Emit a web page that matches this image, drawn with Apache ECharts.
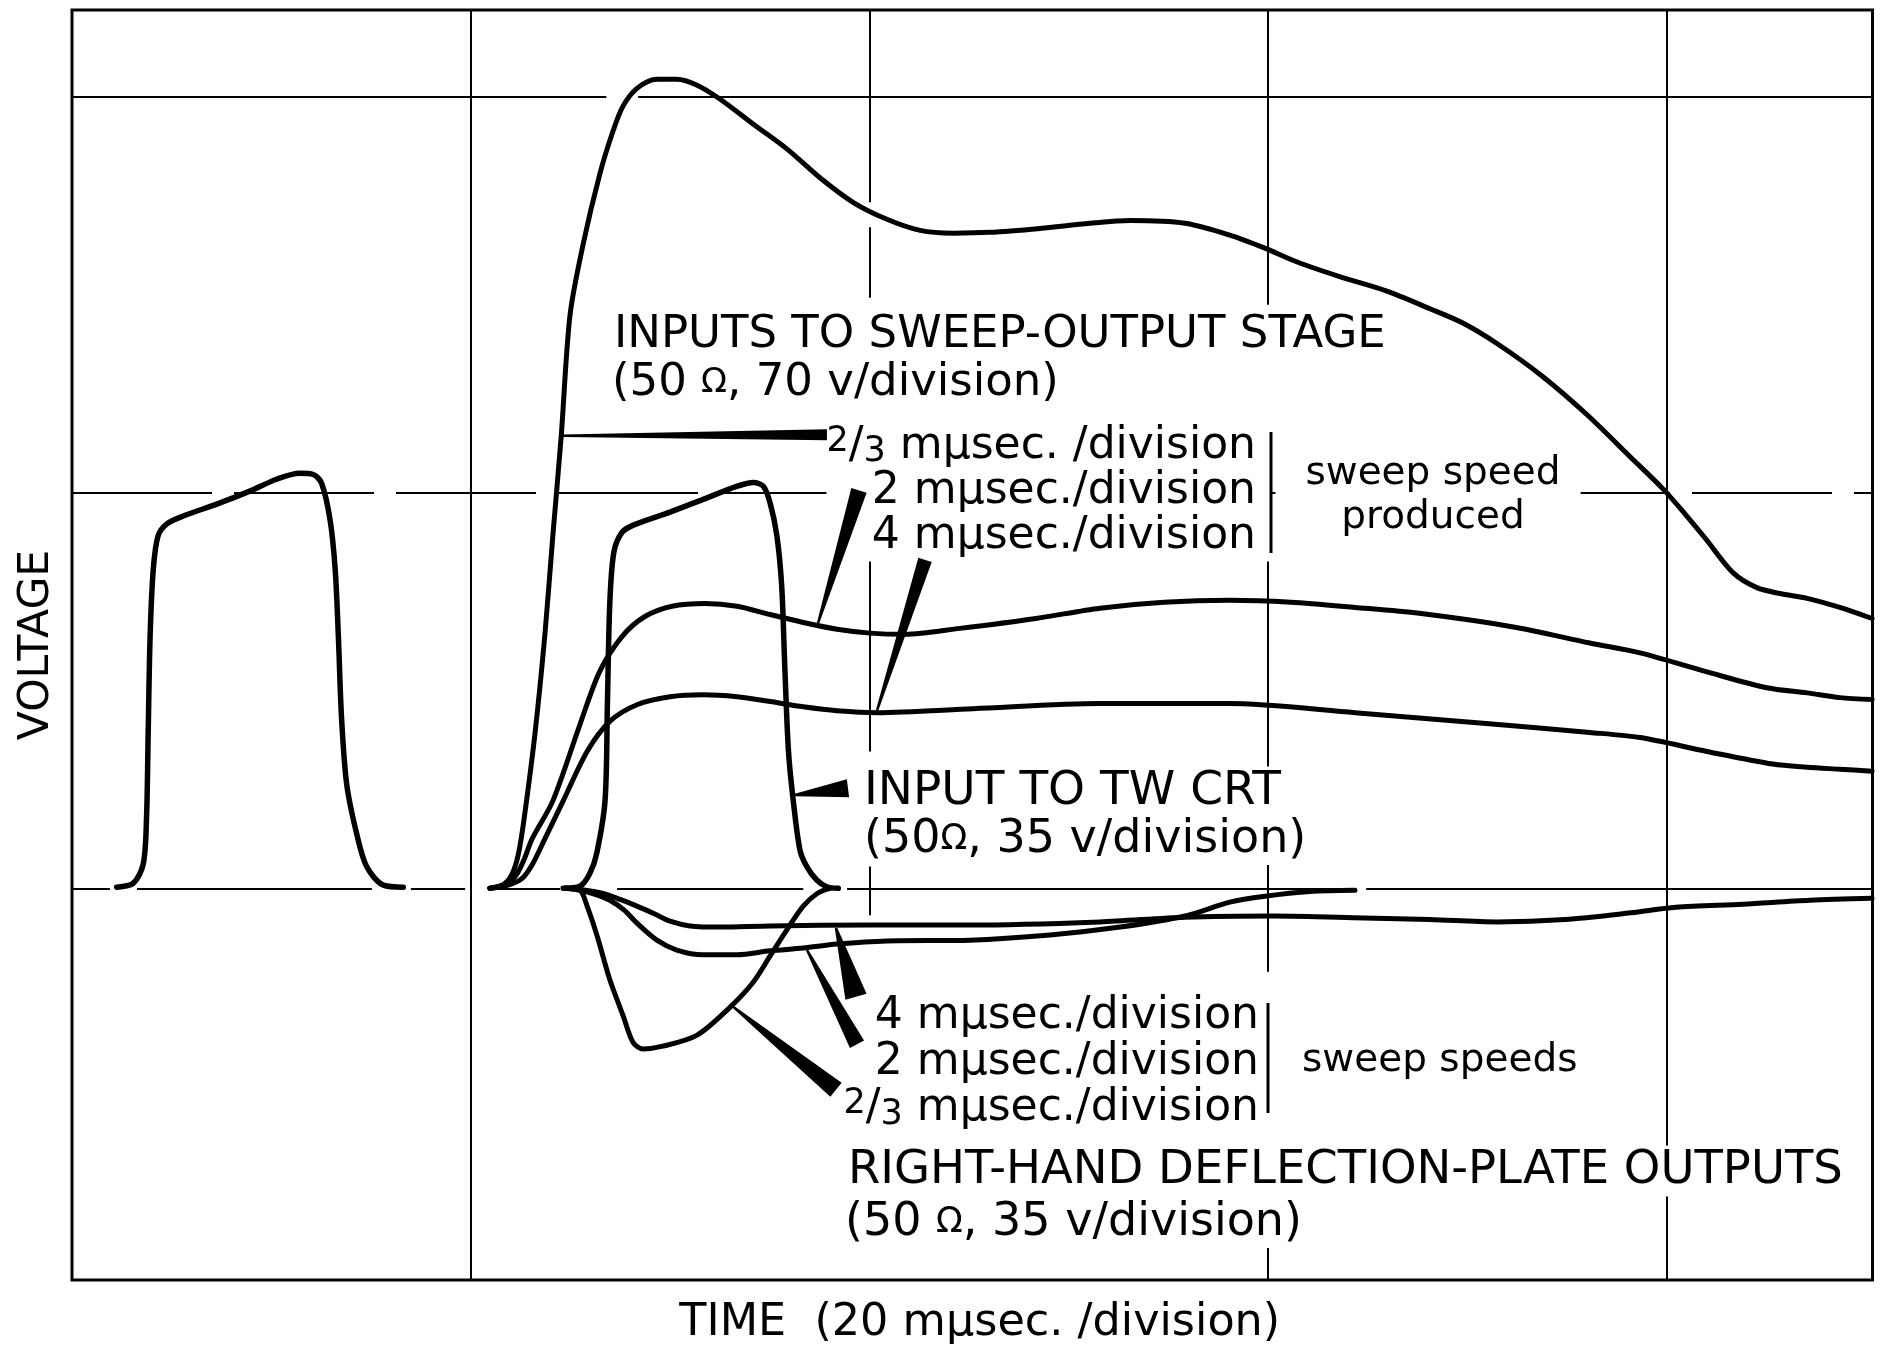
<!DOCTYPE html>
<html>
<head>
<meta charset="utf-8">
<script src="https://cdn.jsdelivr.net/npm/echarts@6/dist/echarts.min.js"></script>
<style>html,body{margin:0;padding:0;background:#fff}#c{width:1885px;height:1351px}</style>
</head>
<body>
<div id="c"></div>
<script>
// Values, in grid divisions: [time (div), voltage (div)]
const crtPulseFirst = [[0.112,0.003],[0.154,0.013],[0.179,0.063],[0.187,0.181],[0.191,0.389],[0.196,0.640],[0.204,0.808],[0.216,0.891],[0.238,0.921],[0.279,0.941],[0.363,0.971],[0.446,1.004],[0.513,1.034],[0.572,1.049],[0.605,1.046],[0.626,1.024],[0.647,0.933],[0.660,0.808],[0.668,0.640],[0.676,0.432],[0.689,0.263],[0.714,0.138],[0.739,0.055],[0.781,0.008],[0.831,0.003]];
const crtPulseSecond = [[1.232,0],[1.274,0.005],[1.299,0.038],[1.316,0.088],[1.337,0.222],[1.343,0.472],[1.349,0.723],[1.359,0.849],[1.379,0.899],[1.408,0.918],[1.500,0.951],[1.583,0.983],[1.667,1.016],[1.709,1.026],[1.734,1.016],[1.751,0.974],[1.768,0.891],[1.780,0.765],[1.788,0.556],[1.797,0.347],[1.809,0.222],[1.826,0.096],[1.843,0.055],[1.868,0.021],[1.893,0.004],[1.922,0]];
const sweepInput23 = [[1.048,0],[1.074,0.005],[1.094,0.020],[1.109,0.048],[1.121,0.093],[1.134,0.176],[1.161,0.389],[1.186,0.640],[1.206,0.891],[1.227,1.142],[1.249,1.448],[1.282,1.628],[1.324,1.806],[1.357,1.914],[1.382,1.977],[1.417,2.022],[1.467,2.045],[1.517,2.045],[1.568,2.030],[1.625,1.995],[1.708,1.932],[1.793,1.869],[1.876,1.796],[1.959,1.734],[2.044,1.691],[2.127,1.663],[2.210,1.656],[2.302,1.658],[2.428,1.668],[2.553,1.681],[2.654,1.688],[2.792,1.681],[2.904,1.651],[2.992,1.618],[3.073,1.583],[3.183,1.545],[3.296,1.510],[3.406,1.465],[3.486,1.430],[3.574,1.377],[3.687,1.295],[3.800,1.197],[3.910,1.089],[3.991,1.009],[4.046,0.946],[4.098,0.883],[4.166,0.798],[4.226,0.760],[4.284,0.745],[4.352,0.733],[4.434,0.710],[4.515,0.682]];
const sweepInput2 = [[1.048,0],[1.086,0.010],[1.114,0.033],[1.134,0.073],[1.154,0.125],[1.206,0.221],[1.274,0.414],[1.324,0.549],[1.380,0.637],[1.437,0.687],[1.505,0.713],[1.588,0.720],[1.668,0.713],[1.751,0.692],[1.834,0.672],[1.919,0.655],[2.002,0.645],[2.089,0.642],[2.227,0.657],[2.418,0.682],[2.578,0.708],[2.739,0.723],[2.904,0.728],[3.057,0.723],[3.218,0.710],[3.379,0.695],[3.619,0.660],[3.807,0.620],[3.933,0.595],[4.101,0.547],[4.251,0.507],[4.352,0.494],[4.434,0.482],[4.515,0.477]];
const sweepInput4 = [[1.048,0],[1.094,0.008],[1.129,0.025],[1.156,0.063],[1.186,0.125],[1.232,0.221],[1.292,0.346],[1.349,0.422],[1.417,0.464],[1.500,0.484],[1.583,0.489],[1.668,0.484],[1.751,0.472],[1.834,0.459],[1.919,0.449],[2.019,0.444],[2.260,0.454],[2.578,0.467],[2.899,0.467],[3.218,0.444],[3.539,0.417],[3.807,0.394],[3.933,0.381],[4.101,0.346],[4.266,0.314],[4.352,0.306],[4.434,0.301],[4.515,0.296]];
const deflect4 = [[1.237,0],[1.274,-0.003],[1.332,-0.013],[1.375,-0.028],[1.417,-0.045],[1.462,-0.065],[1.500,-0.083],[1.550,-0.095],[1.625,-0.098],[1.751,-0.095],[2.002,-0.093],[2.252,-0.093],[2.578,-0.085],[2.792,-0.073],[3.015,-0.070],[3.241,-0.075],[3.406,-0.079],[3.574,-0.085],[3.745,-0.079],[3.910,-0.062],[4.023,-0.048],[4.191,-0.040],[4.359,-0.030],[4.515,-0.025]];
const deflect2 = [[1.237,0],[1.274,-0.005],[1.312,-0.015],[1.349,-0.030],[1.385,-0.055],[1.417,-0.088],[1.467,-0.131],[1.517,-0.156],[1.583,-0.168],[1.668,-0.168],[1.751,-0.158],[1.834,-0.151],[1.919,-0.141],[2.044,-0.133],[2.252,-0.131],[2.453,-0.118],[2.629,-0.098],[2.792,-0.070],[2.904,-0.035],[2.992,-0.020],[3.105,-0.008],[3.218,-0.005]];
const deflect23 = [[1.237,0],[1.274,-0.005],[1.292,-0.045],[1.317,-0.120],[1.349,-0.231],[1.382,-0.321],[1.407,-0.389],[1.432,-0.406],[1.482,-0.399],[1.568,-0.371],[1.650,-0.301],[1.708,-0.238],[1.751,-0.171],[1.793,-0.105],[1.834,-0.045],[1.869,-0.013],[1.901,0]];

const FONT = "'DejaVu Sans', 'Liberation Sans', Arial, sans-serif";
const INK = '#000';

const chart = echarts.init(document.getElementById('c'), null, {renderer: 'canvas', width: 1885, height: 1351});

function curve(name, data, w) {
  return {
    type: 'line', name: name, data: data, showSymbol: false, symbol: 'none',
    smooth: 0.3, silent: true, z: 3,
    lineStyle: {color: INK, width: w, cap: 'round', join: 'round'}
  };
}
const solid = {color: INK, width: 2, type: 'solid'};
function seg(x1, y1, x2, y2, style) {
  return [{coord: [x1, y1], lineStyle: style || solid}, {coord: [x2, y2]}];
}

const gridLines = [
  {xAxis: 1, lineStyle: solid},
  {xAxis: 4, lineStyle: solid},
  seg(2, 2.22, 2, 1.734), seg(2, 1.671, 2, 1.493), seg(2, 0.830, 2, 0.346), seg(2, 0.055, 2, -0.068),
  seg(3, 2.22, 3, 1.475), seg(3, 0.866, 3, -0.211), seg(3, -0.898, 3, -0.99),
  seg(0, 2, 1.34, 2), seg(1.42, 2, 4.516, 2),
  {yAxis: 1, lineStyle: {color: INK, width: 2, type: [140, 22]}},
  seg(0, 0, 0.095, 0), seg(0.163, 0, 0.752, 0), seg(0.850, 0, 0.986, 0), seg(1.066, 0, 1.224, 0),
  seg(1.367, 0, 1.834, 0), seg(1.944, 0, 3.180, 0), seg(3.246, 0, 4.516, 0)
];

// pointer wedges: [tipX, tipY, baseX, baseY, half-width px]
const wedges = [
  [1.2315, 1.144, 1.8936, 1.1465, 5.5],
  [1.8711, 0.670, 1.9739, 1.006, 8],
  [2.0191, 0.449, 2.1395, 0.830, 7],
  [1.8134, 0.236, 1.9463, 0.253, 9],
  [1.9162, -0.100, 1.9664, -0.274, 11],
  [1.8435, -0.156, 1.9689, -0.394, 8],
  [1.6579, -0.299, 1.9162, -0.509, 9]
];

function richFor(size, lh) {
  return {
    sup: {fontSize: Math.round(size * 0.8), fontFamily: FONT, verticalAlign: 'top', lineHeight: lh, fill: INK},
    sl: {fontSize: size, fontFamily: FONT, lineHeight: lh, fill: INK},
    sub: {fontSize: Math.round(size * 0.8), fontFamily: FONT, verticalAlign: 'bottom', lineHeight: lh, fill: INK},
    om: {fontSize: Math.round(size * 0.76), fontFamily: FONT, lineHeight: lh, fill: INK}
  };
}
function txt(x, y, text, size, align, extra) {
  const st = Object.assign({
    text: text, x: 0, y: 0, fill: INK, fontFamily: FONT, fontSize: size,
    align: align, textAlign: align, verticalAlign: 'middle', textVerticalAlign: 'middle',
    backgroundColor: '#fff', padding: [2, 4, 2, 2]
  }, extra || {});
  return {type: 'text', x: x, y: y, z: 10, silent: true, style: st};
}

const option = {
  animation: false,
  backgroundColor: '#fff',
  grid: {left: 72, right: 12.5, top: 10, bottom: 61.5, show: true, borderColor: INK, borderWidth: 3, backgroundColor: 'transparent'},
  xAxis: {
    type: 'value', min: 0, max: 4.516,
    axisLine: {show: false}, axisTick: {show: false}, axisLabel: {show: false}, splitLine: {show: false},
    name: 'TIME  (20 mμsec. /division)', nameLocation: 'middle', nameGap: 21,
    nameTextStyle: {fontFamily: FONT, fontSize: 44.5, color: INK, padding: [0, 0, 0, 15], verticalAlign: 'top'}
  },
  yAxis: {
    type: 'value', min: -0.99, max: 2.22,
    axisLine: {show: false}, axisTick: {show: false}, axisLabel: {show: false}, splitLine: {show: false},
    name: 'VOLTAGE', nameLocation: 'middle', nameGap: 14, nameRotate: 90,
    nameTextStyle: {fontFamily: FONT, fontSize: 42.5, color: INK}
  },
  series: [
    Object.assign(curve('Input to TW CRT (first pulse)', crtPulseFirst, 5.5), {
      markLine: {silent: true, symbol: ['none', 'none'], label: {show: false}, emphasis: {disabled: true}, data: gridLines, z: 1}
    }),
    curve('Input to TW CRT', crtPulseSecond, 5.5),
    curve('Sweep-output input, 2/3 mμsec./division', sweepInput23, 5),
    curve('Sweep-output input, 2 mμsec./division', sweepInput2, 5),
    curve('Sweep-output input, 4 mμsec./division', sweepInput4, 5),
    curve('Deflection-plate output, 4 mμsec./division', deflect4, 5),
    curve('Deflection-plate output, 2 mμsec./division', deflect2, 5),
    curve('Deflection-plate output, 2/3 mμsec./division', deflect23, 5),
    {
      type: 'custom', name: 'pointers', silent: true, z: 12,
      data: wedges,
      encode: {x: [0, 2], y: [1, 3]},
      renderItem: function (params, api) {
        const t = api.coord([api.value(0), api.value(1)]);
        const b = api.coord([api.value(2), api.value(3)]);
        const hw = api.value(4);
        const dx = b[0] - t[0], dy = b[1] - t[1];
        const L = Math.hypot(dx, dy) || 1;
        const nx = -dy / L, ny = dx / L;
        const tw = 1.2;
        return {
          type: 'polygon',
          shape: {points: [
            [t[0] + nx * tw, t[1] + ny * tw], [b[0] + nx * hw, b[1] + ny * hw],
            [b[0] - nx * hw, b[1] - ny * hw], [t[0] - nx * tw, t[1] - ny * tw]
          ]},
          style: {fill: INK}
        };
      }
    }
  ],
  graphic: [
    txt(612, 335, 'INPUTS TO SWEEP-OUTPUT STAGE', 45, 'left'),
    txt(610, 383, '(50 {om|Ω}, 70 v/division)', 45, 'left', {rich: richFor(45, 46)}),
    txt(1270, 492, '{sup|2}{sl|/}{sub|3} mμsec. /division\n2 mμsec./division\n4 mμsec./division', 44, 'right',
        {rich: richFor(44, 45), lineHeight: 45, padding: [2, 14, 2, 0]}),
    txt(1428, 496, 'sweep speed\nproduced', 39, 'center', {lineHeight: 44, padding: [2, 20, 2, 30]}),
    txt(862, 792, 'INPUT TO TW CRT', 47, 'left'),
    txt(862, 840, '(50{om|Ω}, 35 v/division)', 46, 'left', {rich: richFor(46, 46)}),
    txt(1271, 1063, '4 mμsec./division\n2 mμsec./division\n{sup|2}{sl|/}{sub|3} mμsec./division', 44, 'right',
        {rich: richFor(44, 46), lineHeight: 46, padding: [2, 12, 2, 0]}),
    txt(1286, 1061, 'sweep speeds', 39, 'left', {padding: [2, 4, 2, 16]}),
    txt(846, 1171, 'RIGHT-HAND DEFLECTION-PLATE OUTPUTS', 46.5, 'left'),
    txt(843, 1223, '(50 {om|Ω}, 35 v/division)', 46, 'left', {rich: richFor(46, 46)}),
    {type: 'line', z: 11, silent: true, shape: {x1: 1271, y1: 432, x2: 1271, y2: 553}, style: {stroke: INK, lineWidth: 3}},
    {type: 'line', z: 11, silent: true, shape: {x1: 1268, y1: 1003, x2: 1268, y2: 1113}, style: {stroke: INK, lineWidth: 3}}
  ]
};
chart.setOption(option);
</script>
</body>
</html>
